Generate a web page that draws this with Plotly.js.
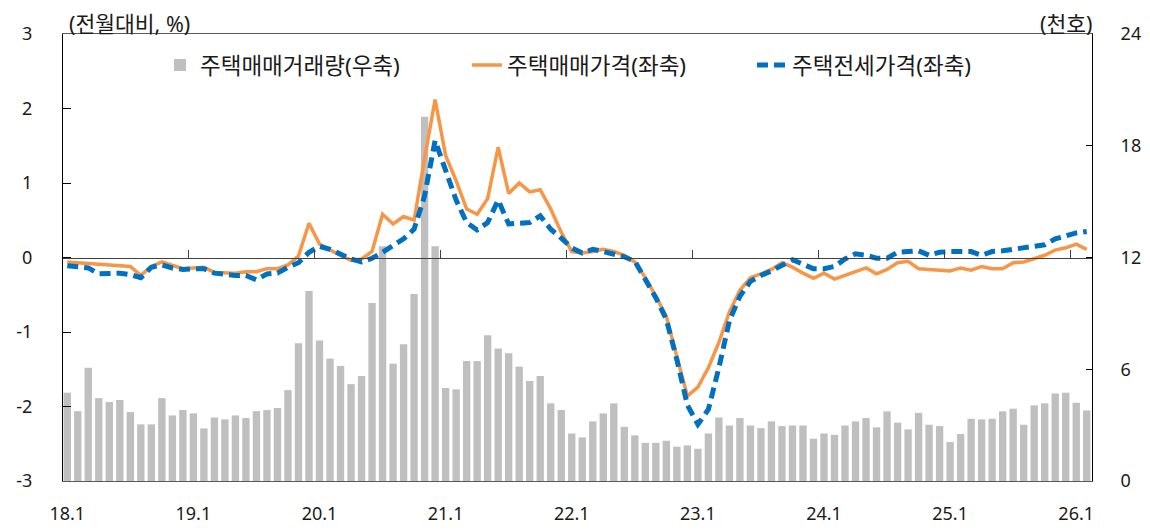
<!DOCTYPE html>
<html><head><meta charset="utf-8">
<script src="https://cdn.plot.ly/plotly-3.0.1.min.js"></script>
<style>html,body{margin:0;padding:0;background:#fff}#chart{width:1150px;height:530px}</style>
</head><body><div id="chart"></div>
<script>
// Monthly categories 18.1 ... 26.2
const months = [];
for (let y = 18; y <= 26; y++) {
  for (let m = 1; m <= 12; m++) {
    if (y === 26 && m > 2) break;
    months.push(y + '.' + m);
  }
}
const tickLabels = ['18.1','19.1','20.1','21.1','22.1','23.1','24.1','25.1','26.1'];
const leftTicks = [-3,-2,-1,0,1,2,3];
const leftTickText = ['-3','-2','-1','0','1','2','3'];
const rightTicks = [0,6,12,18,24];
const seriesNames = ['주택매매거래량(우축)','주택매매가격(좌축)','주택전세가격(좌축)'];

// 주택매매거래량 (천호, 우축)
const volume = [
  4.74,3.75,6.08,4.45,4.24,4.35,3.70,3.04,3.04,4.45,3.52,3.81,
  3.63,2.82,3.41,3.31,3.52,3.38,3.75,3.81,3.92,4.88,7.39,10.2,
  7.55,6.57,6.17,5.20,5.64,9.56,12.6,6.30,7.34,10.04,19.56,12.6,
  4.99,4.92,6.44,6.44,7.82,7.11,6.86,6.14,5.37,5.64,4.17,3.81,
  2.55,2.34,3.20,3.63,4.17,2.91,2.45,2.05,2.05,2.16,1.84,1.91,
  1.73,2.55,3.41,2.98,3.38,2.98,2.84,3.20,2.95,2.98,2.98,2.27,
  2.55,2.48,2.98,3.20,3.38,2.88,3.74,3.13,2.77,3.66,3.02,2.95,
  2.09,2.52,3.34,3.31,3.34,3.74,3.88,3.02,4.06,4.17,4.70,4.74,
  4.20,3.79
];
// 주택매매가격 (전월대비 %, 좌축)
const salePrice = [
  -0.06,-0.07,-0.08,-0.10,-0.11,-0.12,-0.12,-0.24,-0.12,-0.06,-0.10,-0.15,
  -0.14,-0.13,-0.20,-0.21,-0.21,-0.19,-0.19,-0.15,-0.15,-0.10,0.02,0.46,
  0.18,0.10,0.03,-0.04,-0.02,0.08,0.58,0.45,0.55,0.50,1.33,2.12,
  1.37,1.03,0.65,0.58,0.79,1.48,0.86,1.00,0.88,0.91,0.65,0.34,
  0.08,0.06,0.08,0.11,0.08,0.03,-0.06,-0.27,-0.52,-0.79,-1.33,-1.86,
  -1.74,-1.48,-1.14,-0.73,-0.44,-0.27,-0.22,-0.16,-0.07,-0.13,-0.21,-0.28,
  -0.21,-0.29,-0.24,-0.19,-0.14,-0.22,-0.16,-0.07,-0.05,-0.15,-0.16,-0.16,
  -0.18,-0.14,-0.17,-0.12,-0.15,-0.15,-0.07,-0.06,-0.02,0.03,0.10,0.13,
  0.18,0.11
];
// 주택전세가격 (전월대비 %, 좌축)
const jeonsePrice = [
  -0.11,-0.12,-0.14,-0.22,-0.22,-0.21,-0.23,-0.27,-0.13,-0.10,-0.14,-0.16,
  -0.15,-0.15,-0.21,-0.23,-0.24,-0.24,-0.30,-0.22,-0.21,-0.13,-0.07,0.07,
  0.15,0.11,0.05,-0.02,-0.06,-0.01,0.07,0.16,0.25,0.38,0.83,1.57,
  1.15,0.77,0.47,0.37,0.47,0.77,0.45,0.46,0.47,0.56,0.38,0.26,
  0.13,0.06,0.11,0.08,0.05,0.01,-0.05,-0.28,-0.54,-0.83,-1.37,-1.98,
  -2.24,-2.04,-1.48,-0.85,-0.52,-0.32,-0.24,-0.18,-0.10,-0.03,-0.09,-0.15,
  -0.15,-0.12,-0.02,0.05,0.03,-0.01,-0.01,0.07,0.08,0.09,0.03,0.07,
  0.08,0.08,0.08,0.03,0.08,0.09,0.11,0.13,0.14,0.17,0.25,0.29,
  0.33,0.35
];

const idx = months.map((_, i) => i);
const tickIdx = tickLabels.map(t => months.indexOf(t));
const yearBounds = tickIdx.map(i => i - 0.5);
const xRange = [-0.5, months.length - 0.5];
const FONT = 'Noto Sans, Noto Sans CJK KR, sans-serif';

const traces = [
  {type:'bar', x:idx, y:volume, name:seriesNames[0], xaxis:'x', yaxis:'y',
   marker:{color:'#BFBFBF'}, legend:'legend', hoverinfo:'skip'},
  {type:'scatter', mode:'lines', x:idx, y:salePrice, name:seriesNames[1], xaxis:'x2', yaxis:'y2',
   line:{color:'#F79646', width:3.5}, legend:'legend2', hoverinfo:'skip'},
  {type:'scatter', mode:'lines', x:idx, y:jeonsePrice, name:seriesNames[2], xaxis:'x2', yaxis:'y2',
   line:{color:'#0070C0', width:5, dash:'11px,6px'}, legend:'legend3', hoverinfo:'skip'}
];

const legendBase = {orientation:'h', xanchor:'left', yanchor:'middle', y:0.93,
  bgcolor:'rgba(0,0,0,0)', borderwidth:0, font:{family:FONT, size:22.5, color:'#1a1a1a'}, itemwidth:30};

const layout = {
  width:1150, height:530,
  margin:{l:62, r:58, t:34, b:49, pad:0},
  paper_bgcolor:'#ffffff', plot_bgcolor:'#ffffff',
  font:{family:FONT, size:18, color:'#1a1a1a'},
  showlegend:true,
  bargap:0.3,
  xaxis:{range:xRange, tickvals:tickIdx, ticktext:tickLabels, ticks:'', showgrid:false, zeroline:false,
    showline:true, mirror:true, linecolor:'#595959', linewidth:1, layer:'below traces', ticklabelstandoff:16},
  xaxis2:{overlaying:'x', anchor:'free', position:0.5, range:xRange, tickvals:yearBounds, ticks:'inside',
    ticklen:8, tickcolor:'#404040', tickwidth:1, showticklabels:false, showgrid:false, zeroline:false,
    showline:true, linecolor:'#404040', linewidth:1.2},
  yaxis:{side:'right', range:[0,24], tickvals:rightTicks, ticks:'inside', ticklen:6, tickcolor:'#000',
    showline:true, linecolor:'#000', linewidth:1, showgrid:false, zeroline:false, ticklabelstandoff:24},
  yaxis2:{overlaying:'y', side:'left', anchor:'free', position:0, range:[-3,3], tickvals:leftTicks,
    ticktext:leftTickText, ticks:'inside', ticklen:8, tickcolor:'#000', showline:true, linecolor:'#000',
    linewidth:1, showgrid:false, zeroline:false, ticklabelstandoff:26},
  legend:Object.assign({}, legendBase, {x:(160-62)/1030}),
  legend2:Object.assign({}, legendBase, {x:(467-62)/1030}),
  legend3:Object.assign({}, legendBase, {x:(752-62)/1030}),
  annotations:[
    {xref:'paper', yref:'paper', x:0, y:1, xanchor:'left', yanchor:'middle', xshift:5, yshift:11,
     text:'(전월대비, %)', showarrow:false, font:{family:FONT, size:21.5, color:'#1a1a1a'}},
    {xref:'paper', yref:'paper', x:1, y:1, xanchor:'right', yanchor:'middle', xshift:2, yshift:11,
     text:'(천호)', showarrow:false, font:{family:FONT, size:21.5, color:'#1a1a1a'}}
  ]
};

Plotly.newPlot('chart', traces, layout, {staticPlot:true, displayModeBar:false});
</script>
</body></html>
